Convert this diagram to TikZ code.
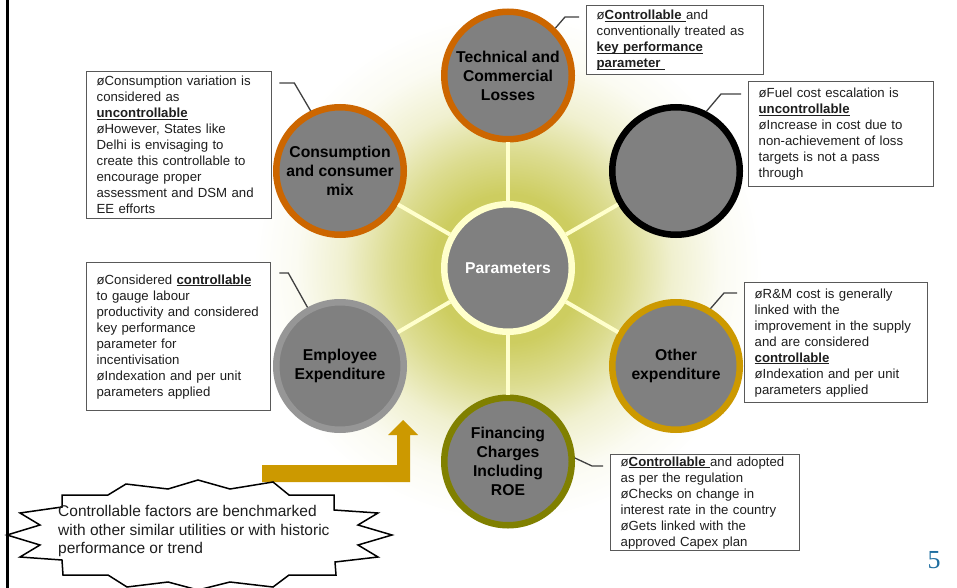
\documentclass[tikz,border=0pt]{standalone}
\usepackage{fontspec}
\setmainfont{Liberation Sans}
\newfontfamily\numfont{Liberation Serif}
\usetikzlibrary{calc}

\definecolor{cgray}{RGB}{128,128,128}
\definecolor{ringorange}{RGB}{204,102,0}
\definecolor{ringgold}{RGB}{204,153,0}
\definecolor{ringolive}{RGB}{128,128,0}
\definecolor{ringgray}{RGB}{150,150,150}
\definecolor{paleyellow}{RGB}{255,255,204}
\definecolor{glowc}{RGB}{205,205,96}
\colorlet{glowb}{glowc!70!white}
\colorlet{glowd}{glowc!30!white}
\colorlet{glowe}{glowc!8!white}
\definecolor{boxline}{RGB}{89,89,89}
\definecolor{leader}{RGB}{64,64,64}
\definecolor{textdark}{RGB}{30,30,30}
\definecolor{numblue}{RGB}{31,110,160}
\definecolor{arrowgold}{RGB}{204,153,0}

% bold underlined keyword
\newcommand\ulbold[1]{\underline{\smash{\textbf{#1}}}}

% the shaded circle's rim corresponds to 25bp
\pgfdeclareradialshading{glowshade}{\pgfpoint{0bp}{0bp}}{%
  color(0bp)=(glowc); color(7bp)=(glowc); color(11bp)=(glowb);
  color(15.5bp)=(glowd); color(20bp)=(glowe); color(24bp)=(white);
  color(50bp)=(white)}

\begin{document}
\begin{tikzpicture}[x=1pt,y=-1pt,
  bubble/.style={circle, fill=cgray, line width=6.5pt, minimum size=127.5pt,
    inner sep=0pt, align=center, text=black,
    font=\fontsize{15.7}{19}\selectfont\bfseries},
  spoke/.style={draw=paleyellow, line width=4pt},
  note/.style={draw=boxline, line width=1.3pt, fill=white, anchor=north west,
    inner xsep=10pt, inner ysep=0pt, align=left, text=textdark,
    font=\fontsize{13.2}{16}\selectfont},
  leaderline/.style={draw=leader, line width=1.3pt},
  burst/.style={draw=black, line width=1.5pt, fill=white, line join=miter},
]
\useasboundingbox (0,0) rectangle (957,588);

% soft glow behind the hub
\shade[shading=glowshade] (508,268) circle[radius=265pt];

% left rule
\draw[line width=2.7pt] (7.3,0) -- (7.3,588);

% hub and satellites
\node[bubble, draw=paleyellow, text=white] (pc) at (508,268) {Parameters};
\node[bubble, draw=ringorange] (tc) at (508,75.5) {Technical and\\Commercial\\Losses};
\node[bubble, draw=ringorange] (cc) at (340,171) {Consumption\\and consumer\\mix};
\node[bubble, draw=black] (fc) at (676,171) {};
\node[bubble, draw=ringgray] (ec) at (340,366) {Employee\\Expenditure};
\node[bubble, draw=ringgold] (oc) at (676,366) {Other\\expenditure};
\node[bubble, draw=ringolive] (nc) at (508,461.5) {Financing\\Charges\\Including\\ROE};

\foreach \s in {tc,cc,fc,ec,oc,nc} \draw[spoke] (pc) -- (\s);

% notes
\node[note, text width=157pt, minimum height=69pt] (tbox) at (586,5)
  {ø\ulbold{Controllable }and\\conventionally treated as\\\ulbold{key performance}\\\ulbold{parameter }};
\node[note, text width=165pt, minimum height=105pt] (fbox) at (748,81)
  {øFuel cost escalation is\\\ulbold{uncontrollable}\\øIncrease in cost due to\\non-achievement of loss\\targets is not a pass\\through};
\node[note, text width=165pt, minimum height=147pt] (cbox) at (86,71)
  {øConsumption variation is\\considered as\\\ulbold{uncontrollable}\\øHowever, States like\\Delhi is envisaging to\\create this controllable to\\encourage proper\\assessment and DSM and\\EE efforts};
\node[note, text width=164pt, minimum height=148pt] (ebox) at (86,262)
  {øConsidered \ulbold{controllable}\\to gauge labour\\productivity and considered\\key performance\\parameter for\\incentivisation\\øIndexation and per unit\\parameters applied};
\node[note, text width=163pt, minimum height=120pt] (obox) at (744,282)
  {øR\&M cost is generally\\linked with the\\improvement in the supply\\and are considered\\\ulbold{controllable}\\øIndexation and per unit\\parameters applied};
\node[note, text width=169pt, minimum height=96pt] (nbox) at (610,454)
  {ø\ulbold{Controllable }and adopted\\as per the regulation\\øChecks on change in\\interest rate in the country\\øGets linked with the\\approved Capex plan};

% leader lines from notes to bubbles
\draw[leaderline] ($(tbox.north west)+(-7,12)$) -- ++(-14,0) -- (tc.45);
\draw[leaderline] ($(fbox.north west)+(-7,13)$) -- ++(-20,0) -- (fc.63);
\draw[leaderline] ($(cbox.north east)+(7,12)$) -- ++(15,0) -- (cc.116);
\draw[leaderline] ($(ebox.north east)+(8,11)$) -- ++(9,0) -- (ec.119);
\draw[leaderline] ($(obox.north west)+(-7,11)$) -- ++(-13,0) -- (oc.59);
\draw[leaderline] ($(nbox.north west)+(-7,12)$) -- ++(-11,0) -- (nc.3);

% bent block arrow
\fill[arrowgold] (262,465) -- (397,465) -- (397,435) -- (388,435) -- (403,420)
  -- (418,435) -- (410,435) -- (410,482) -- (262,482) -- cycle;

% starburst callout
\draw[burst] (62,495) -- (108,495) -- (126,484) -- (168,489) -- (198,480)
  -- (230,489) -- (273,482) -- (289,495) -- (334,495) -- (334,510)
  -- (378,513) -- (358,525) -- (392,535) -- (358,545) -- (378,557)
  -- (335,562) -- (336,575) -- (289,575) -- (273,587) -- (230,582)
  -- (198,590) -- (168,582) -- (127,587) -- (108,575) -- (63,575)
  -- (62,560) -- (20,557) -- (40,545) -- (7,535) -- (40,525)
  -- (20,513) -- (62,507) -- cycle;
\node[anchor=north west, inner sep=0pt, align=left, text=textdark,
  font=\fontsize{15.5}{18.5}\selectfont] (bench) at (58,505.5)
  {Controllable factors are benchmarked\\with other similar utilities or with historic\\performance or trend};

% page number
\node[anchor=base, inner sep=0pt, text=numblue, font=\numfont\fontsize{26}{26}\selectfont] (pg) at (934,568) {5};
\end{tikzpicture}
\end{document}
